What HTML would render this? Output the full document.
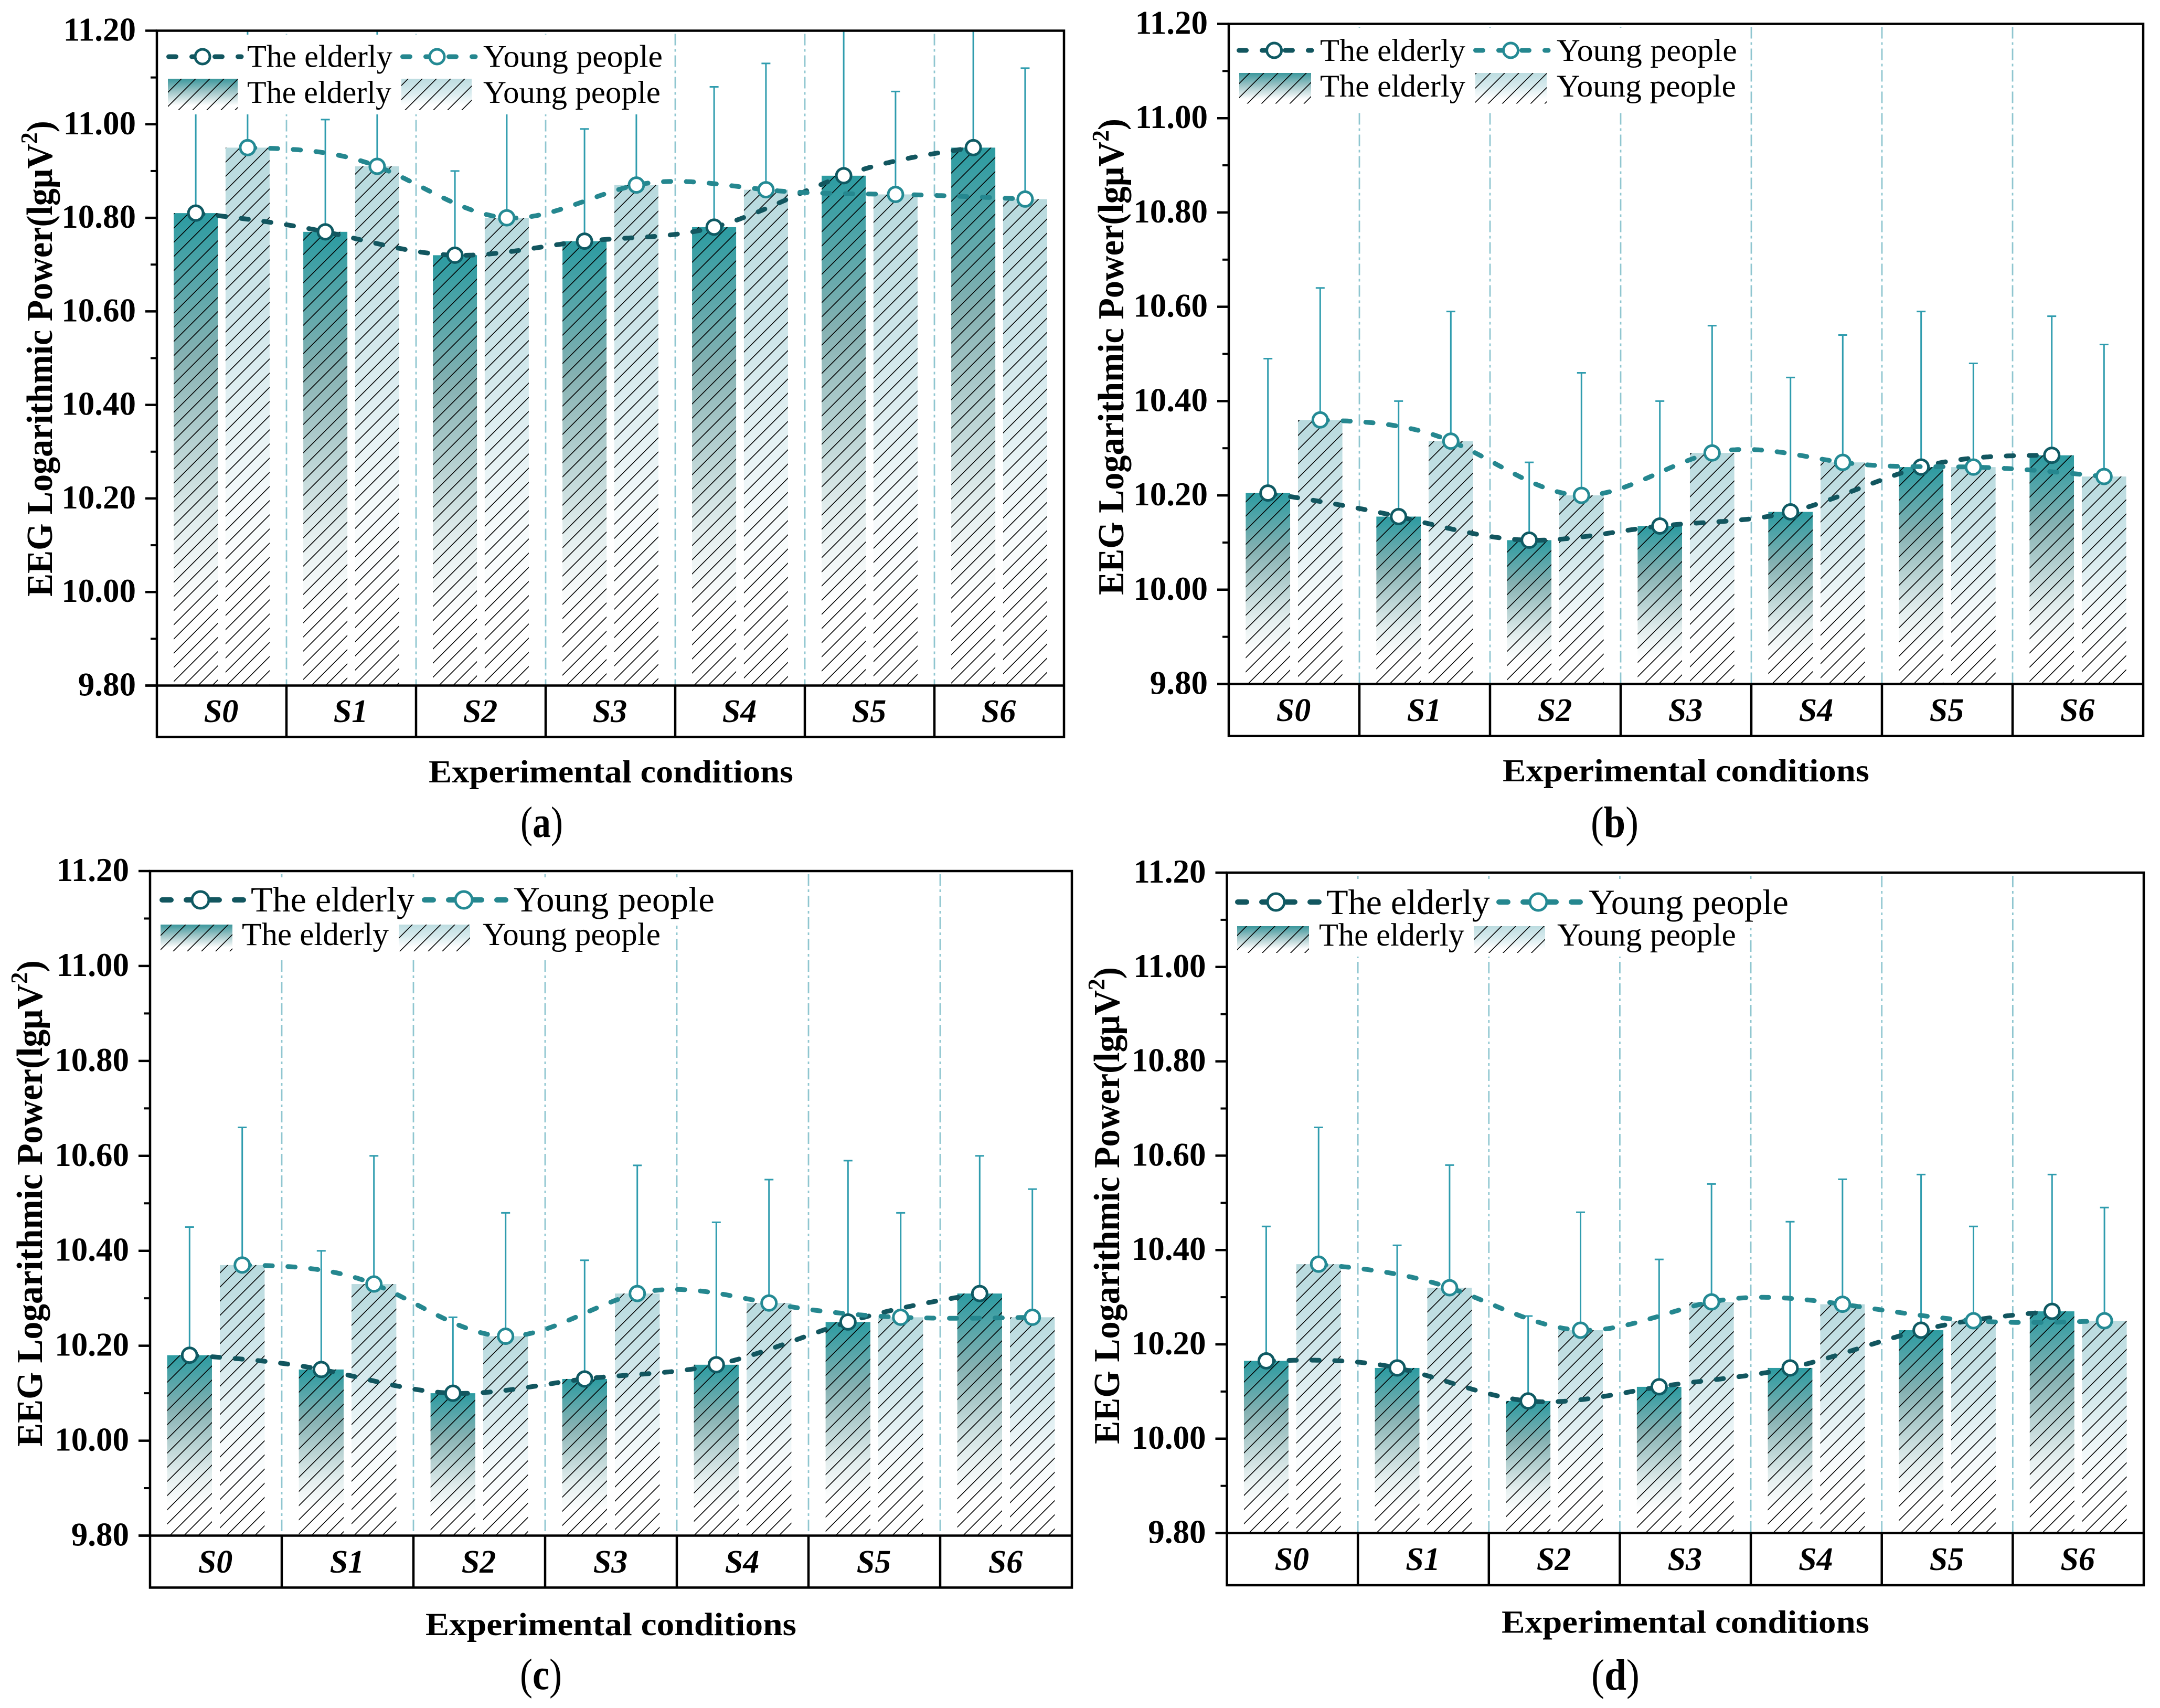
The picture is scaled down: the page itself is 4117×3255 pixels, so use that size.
<!DOCTYPE html>
<html lang="en">
<head>
<meta charset="utf-8">
<title>EEG Logarithmic Power by Experimental Condition</title>
<style>
html,body{margin:0;padding:0;background:#fff;width:4117px;height:3255px;overflow:hidden}
svg{display:block;font-family:"Liberation Serif",serif}
</style>
</head>
<body>
<svg id="figure" xmlns="http://www.w3.org/2000/svg" width="4117" height="3255" viewBox="0 0 4117 3255">
<defs>
<linearGradient id="gradElderly" x1="0" y1="0" x2="0" y2="1">
<stop offset="0" stop-color="#2b9ba1"/><stop offset="0.3" stop-color="#85b1b2"/><stop offset="0.66" stop-color="#e3eeee"/><stop offset="0.84" stop-color="#ffffff"/>
</linearGradient>
<linearGradient id="gradYoung" x1="0" y1="0" x2="0" y2="1">
<stop offset="0" stop-color="#b8dade"/><stop offset="0.3" stop-color="#cfe6ea"/><stop offset="0.66" stop-color="#f5fafb"/><stop offset="0.84" stop-color="#ffffff"/>
</linearGradient>
<linearGradient id="gradLegendElderly" x1="0" y1="0" x2="0" y2="1">
<stop offset="0" stop-color="#3a979c"/><stop offset="0.4" stop-color="#9cc4c6"/><stop offset="0.85" stop-color="#ffffff"/>
</linearGradient>
<linearGradient id="gradLegendYoung" x1="0" y1="0" x2="0" y2="1">
<stop offset="0" stop-color="#bcdce0"/><stop offset="0.45" stop-color="#d8ebee"/><stop offset="0.85" stop-color="#ffffff"/>
</linearGradient>
<pattern id="hatch" patternUnits="userSpaceOnUse" x="10" y="0" width="27" height="27">
<path d="M-2,29 L29,-2 M-2,2 L2,-2 M25,29 L29,25" stroke="#000" stroke-width="1.6" fill="none"/>
</pattern>
</defs>
</svg>
<script>
const categories = ['S0','S1','S2','S3','S4','S5','S6'];
const yTickLabels = ['9.80','10.00','10.20','10.40','10.60','10.80','11.00','11.20'];
const seriesNames = ['The elderly','Young people'];

const elderlyA = [10.81,10.77,10.72,10.75,10.78,10.89,10.95];
const youngA = [10.95,10.91,10.80,10.87,10.86,10.85,10.84];
const elderlyUpperA = [11.10,11.01,10.90,10.99,11.08,11.30,11.30];
const youngUpperA = [11.25,11.25,11.10,11.10,11.13,11.07,11.12];

const elderlyB = [10.205,10.155,10.105,10.135,10.165,10.26,10.285];
const youngB = [10.36,10.315,10.20,10.29,10.27,10.26,10.24];
const elderlyUpperB = [10.49,10.40,10.27,10.40,10.45,10.59,10.58];
const youngUpperB = [10.64,10.59,10.46,10.56,10.54,10.48,10.52];

const elderlyC = [10.18,10.15,10.10,10.13,10.16,10.25,10.31];
const youngC = [10.37,10.33,10.22,10.31,10.29,10.26,10.26];
const elderlyUpperC = [10.45,10.40,10.26,10.38,10.46,10.59,10.60];
const youngUpperC = [10.66,10.60,10.48,10.58,10.55,10.48,10.53];

const elderlyD = [10.165,10.15,10.08,10.11,10.15,10.23,10.27];
const youngD = [10.37,10.32,10.23,10.29,10.285,10.25,10.25];
const elderlyUpperD = [10.45,10.41,10.26,10.38,10.46,10.56,10.56];
const youngUpperD = [10.66,10.58,10.48,10.54,10.55,10.45,10.49];

const NS = 'http://www.w3.org/2000/svg';
const fig = document.getElementById('figure');
const ELDER_LINE = '#12565f', YOUNG_LINE = '#25878f', ERR = '#2f9cae', DIV = '#8fc6d0';

function mk(parent, tag, attrs, txt){
  const e = document.createElementNS(NS, tag);
  for (const k in attrs) e.setAttribute(k, attrs[k]);
  if (txt !== undefined) e.textContent = txt;
  parent.appendChild(e);
  return e;
}
/* place text so its rendered width equals x1-x0 */
function fit(el, x0, x1, baseline, rot){
  const w = el.getComputedTextLength();
  const s = (x1 - x0) / w;
  if (rot) el.setAttribute('transform', 'translate(' + baseline + ',' + x1 + ') rotate(-90) scale(' + s + ',1)');
  else el.setAttribute('transform', 'translate(' + x0 + ',' + baseline + ') scale(' + s + ',1)');
}
/* natural cubic spline through the data points */
function splinePath(xs, ys){
  const n = xs.length - 1, h = [], a = [], l = [1], mu = [0], z = [0], c = new Array(n + 1).fill(0), b = [], d = [];
  for (let i = 0; i < n; i++) h[i] = xs[i + 1] - xs[i];
  for (let i = 1; i < n; i++) a[i] = 3 / h[i] * (ys[i + 1] - ys[i]) - 3 / h[i - 1] * (ys[i] - ys[i - 1]);
  for (let i = 1; i < n; i++){
    l[i] = 2 * (xs[i + 1] - xs[i - 1]) - h[i - 1] * mu[i - 1];
    mu[i] = h[i] / l[i];
    z[i] = (a[i] - h[i - 1] * z[i - 1]) / l[i];
  }
  for (let j = n - 1; j >= 0; j--){
    c[j] = j === 0 ? 0 : z[j] - mu[j] * c[j + 1];
    b[j] = (ys[j + 1] - ys[j]) / h[j] - h[j] * (c[j + 1] + 2 * c[j]) / 3;
    d[j] = (c[j + 1] - c[j]) / (3 * h[j]);
  }
  let p = 'M' + xs[0].toFixed(1) + ',' + ys[0].toFixed(1);
  for (let i = 0; i < n; i++){
    for (let t = 4; t <= h[i]; t += 4){
      p += 'L' + (xs[i] + t).toFixed(1) + ',' + (ys[i] + b[i] * t + c[i] * t * t + d[i] * t * t * t).toFixed(1);
    }
    p += 'L' + xs[i + 1].toFixed(1) + ',' + ys[i + 1].toFixed(1);
  }
  return p;
}

const panels = [
 {id:'a', elderly:elderlyA, young:youngA, elderlyUpper:elderlyUpperA, youngUpper:youngUpperA,
  left:299, right:2028, top:58.5, bottom:1306.5, tableBottom:1404.5, catBase:1376,
  yTitle:{base:99, y0:230, y1:1137}, xTitle:{x0:817, x1:1512, base:1491}, cap:{x0:992, x1:1073, base:1595, letter:'a'},
  masks:[[310,66,975,152]],
  lineRow:{y:108, r:14, dash:'14 30', w:9, e:[317,460,386], g:[763,906,833], fs:60, base:127.5, te:[471,748], tg:[921,1263]},
  barRow:{y0:150, y1:210, e:[320,453], g:[765,899], fs:60, base:196, te:[471,746], tg:[921,1259]}},
 {id:'b', elderly:elderlyB, young:youngB, elderlyUpper:elderlyUpperB, youngUpper:youngUpperB,
  left:2342, right:4085, top:45.5, bottom:1303.5, tableBottom:1402.7, catBase:1374,
  yTitle:{base:2141, y0:226, y1:1134}, xTitle:{x0:2864, x1:3563, base:1489}, cap:{x0:3032, x1:3123, base:1595, letter:'b'},
  masks:[[2352,53,983,158]],
  lineRow:{y:96, r:14, dash:'14 30', w:9, e:[2357,2500,2428.6], g:[2808,2951,2879.5], fs:60, base:116, te:[2516,2793], tg:[2967,3311]},
  barRow:{y0:139, y1:197.5, e:[2362,2499], g:[2812,2948], fs:60, base:184, te:[2516,2793], tg:[2967,3309]}},
 {id:'c', elderly:elderlyC, young:youngC, elderlyUpper:elderlyUpperC, youngUpper:youngUpperC,
  left:286, right:2043, top:1660, bottom:2926.5, tableBottom:3025.5, catBase:2997,
  yTitle:{base:80, y0:1830, y1:2757}, xTitle:{x0:811, x1:1518, base:3116}, cap:{x0:991, x1:1071, base:3219, letter:'c'},
  masks:[[296,1672,1080,92],[296,1764,990,62]],
  lineRow:{y:1715, r:16, dash:'17 29', w:10, e:[304,464,382], g:[804,966,884], fs:68, base:1737, te:[478,790], tg:[979,1362]},
  barRow:{y0:1762, y1:1813, e:[306,443], g:[760,896], fs:61, base:1801, te:[461,741], tg:[920,1259]}},
 {id:'d', elderly:elderlyD, young:youngD, elderlyUpper:elderlyUpperD, youngUpper:youngUpperD,
  left:2338.5, right:4086, top:1663, bottom:2921.6, tableBottom:3021, catBase:2992,
  yTitle:{base:2133, y0:1843, y1:2752}, xTitle:{x0:2862, x1:3563, base:3111.7}, cap:{x0:3033, x1:3125, base:3220, letter:'d'},
  masks:[[2348,1675,1070,93],[2348,1768,985,55]],
  lineRow:{y:1719, r:16, dash:'17 29', w:10, e:[2354,2514,2432], g:[2852,3014,2932], fs:68, base:1742, te:[2528,2840], tg:[3028,3409]},
  barRow:{y0:1765, y1:1816, e:[2358,2495], g:[2809,2945], fs:61, base:1802, te:[2514,2791], tg:[2968,3309]}}
];

panels.forEach(function(P){
  const g = mk(fig, 'g', {});
  
  

  const cat = (P.right - P.left) / categories.length;
  const yMin = parseFloat(yTickLabels[0]), yMax = parseFloat(yTickLabels[yTickLabels.length - 1]);
  const yScale = function(v){ return P.bottom - (v - yMin) / (yMax - yMin) * (P.bottom - P.top); };
  const catCenter = function(i){ return P.left + (i + 0.5) * cat; };
  const barW = 0.34 * cat, off = 0.2 * cat;

  const clipId = 'clip-' + P.id;
  const cp = mk(g, 'clipPath', {id:clipId});
  mk(cp, 'rect', {x:P.left, y:P.top, width:P.right - P.left, height:P.bottom - P.top});
  const plot = mk(g, 'g', {'clip-path':'url(#' + clipId + ')'});
  
  

  /* dividers */
  for (let i = 1; i < categories.length; i++){
    const x = P.left + i * cat;
    const dv = mk(plot, 'line', {x1:x, x2:x, y1:P.top + 6, y2:P.bottom, stroke:DIV, 'stroke-width':2.8, 'stroke-dasharray':'22 7 5 7'});
    
    
  }

  /* bars */
  categories.forEach(function(c, i){
    [[P.elderly, -off, 'gradElderly', 'elderly'], [P.young, off, 'gradYoung', 'young']].forEach(function(s){
      const x = catCenter(i) + s[1] - barW / 2, yt = yScale(s[0][i]);
      const bar = mk(plot, 'rect', {x:x, y:yt, width:barW, height:P.bottom - yt, fill:'url(#' + s[2] + ')'});
      
      
      const hatch = mk(plot, 'rect', {x:x, y:yt, width:barW, height:P.bottom - yt, fill:'url(#hatch)'});
      
      
    });
  });

  /* error bars */
  categories.forEach(function(c, i){
    [[P.elderly, P.elderlyUpper, -off, 'elderly'], [P.young, P.youngUpper, off, 'young']].forEach(function(s){
      const x = catCenter(i) + s[2], y0 = yScale(s[0][i]), y1 = yScale(s[1][i]);
      const eb = mk(plot, 'path', {d:'M' + x + ',' + y0 + 'V' + y1 + 'M' + (x - 8.5) + ',' + y1 + 'H' + (x + 8.5), stroke:ERR, 'stroke-width':3, fill:'none'});
      
      
    });
  });

  /* series lines and markers */
  [[P.elderly, -off, ELDER_LINE, '#0f5a63', 'elderly'], [P.young, off, YOUNG_LINE, '#248a94', 'young']].forEach(function(s){
    const xs = categories.map(function(c, i){ return catCenter(i) + s[1]; });
    const ys = s[0].map(yScale);
    const ln = mk(plot, 'path', {d:splinePath(xs, ys), fill:'none', stroke:s[2], 'stroke-width':9, 'stroke-linecap':'round', 'stroke-dasharray':'14 29.5'});
    
    
    xs.forEach(function(x, i){
      const m = mk(plot, 'circle', {cx:x, cy:ys[i], r:14, fill:'#fff', stroke:s[3], 'stroke-width':5});
      
      
    });
  });

  /* legend */
  const leg = mk(g, 'g', {});
  
  
  P.masks.forEach(function(r){
    mk(leg, 'rect', {x:r[0], y:r[1], width:r[2], height:r[3], fill:'#fff'});
  });
  [[P.lineRow.e, ELDER_LINE, '#0f5a63', P.lineRow.te, 0], [P.lineRow.g, YOUNG_LINE, '#248a94', P.lineRow.tg, 1]].forEach(function(s){
    const R = P.lineRow;
    const l = mk(leg, 'line', {x1:s[0][0] + R.w / 2, x2:s[0][1], y1:R.y, y2:R.y, stroke:s[1], 'stroke-width':R.w, 'stroke-linecap':'round', 'stroke-dasharray':R.dash});
    
    
    const m = mk(leg, 'circle', {cx:s[0][2], cy:R.y, r:R.r, fill:'#fff', stroke:s[2], 'stroke-width':5});
    
    
    const t = mk(leg, 'text', {'font-size':R.fs, fill:'#000'}, seriesNames[s[4]]);
    
    
    fit(t, s[3][0], s[3][1], R.base);
  });
  [[P.barRow.e, 'gradLegendElderly', P.barRow.te, 0], [P.barRow.g, 'gradLegendYoung', P.barRow.tg, 1]].forEach(function(s){
    const R = P.barRow;
    const p = mk(leg, 'rect', {x:s[0][0], y:R.y0, width:s[0][1] - s[0][0], height:R.y1 - R.y0, fill:'url(#' + s[1] + ')'});
    
    
    const h = mk(leg, 'rect', {x:s[0][0], y:R.y0, width:s[0][1] - s[0][0], height:R.y1 - R.y0, fill:'url(#hatch)'});
    
    
    const t = mk(leg, 'text', {'font-size':R.fs, fill:'#000'}, seriesNames[s[3]]);
    
    
    fit(t, s[2][0], s[2][1], R.base);
  });

  /* axes frame and table */
  const frame = mk(g, 'path', {d:'M' + P.left + ',' + P.top + 'H' + P.right + 'V' + P.tableBottom + 'H' + P.left + 'Z', fill:'none', stroke:'#000', 'stroke-width':4.5});
  
  
  const axisBase = mk(g, 'line', {x1:P.left - 22, x2:P.right, y1:P.bottom, y2:P.bottom, stroke:'#000', 'stroke-width':4.5});
  
  
  categories.forEach(function(c, i){
    if (i > 0){
      const x = P.left + i * cat;
      const sep = mk(g, 'line', {x1:x, x2:x, y1:P.bottom, y2:P.tableBottom, stroke:'#000', 'stroke-width':4.5});
      
      
    }
    const t = mk(g, 'text', {x:catCenter(i) - 1, y:P.catBase, 'text-anchor':'middle', 'font-size':62, 'font-weight':'bold', 'font-style':'italic'}, c);
    
    
  });

  /* y ticks */
  yTickLabels.forEach(function(lab, i){
    const v = parseFloat(lab), y = yScale(v);
    const tick = mk(g, 'line', {x1:P.left - 22, x2:P.left, y1:y, y2:y, stroke:'#000', 'stroke-width':4.5});
    
    
    const t = mk(g, 'text', {x:P.left - 40, y:y + 19, 'text-anchor':'end', 'font-size':63, 'font-weight':'bold'}, lab);
    
    
    if (i < yTickLabels.length - 1){
      const ym = yScale((v + parseFloat(yTickLabels[i + 1])) / 2);
      const minor = mk(g, 'line', {x1:P.left - 12, x2:P.left, y1:ym, y2:ym, stroke:'#000', 'stroke-width':4});
      
      
    }
  });

  /* titles */
  const yt = mk(g, 'text', {'font-size':70, 'font-weight':'bold'}, 'EEG Logarithmic Power(lgμV');
  mk(yt, 'tspan', {'font-size':46, dy:-28}, '2');
  mk(yt, 'tspan', {dy:28}, ')');
  
  
  fit(yt, P.yTitle.y0, P.yTitle.y1, P.yTitle.base, true);

  const xt = mk(g, 'text', {'font-size':61, 'font-weight':'bold'}, 'Experimental conditions');
  
  
  fit(xt, P.xTitle.x0, P.xTitle.x1, P.xTitle.base);

  const capEl = mk(g, 'text', {'font-size':84}, '(');
  mk(capEl, 'tspan', {'font-weight':'bold'}, P.cap.letter);
  mk(capEl, 'tspan', {}, ')');
  
  
  fit(capEl, P.cap.x0, P.cap.x1, P.cap.base);
});
</script>
</body>
</html>
